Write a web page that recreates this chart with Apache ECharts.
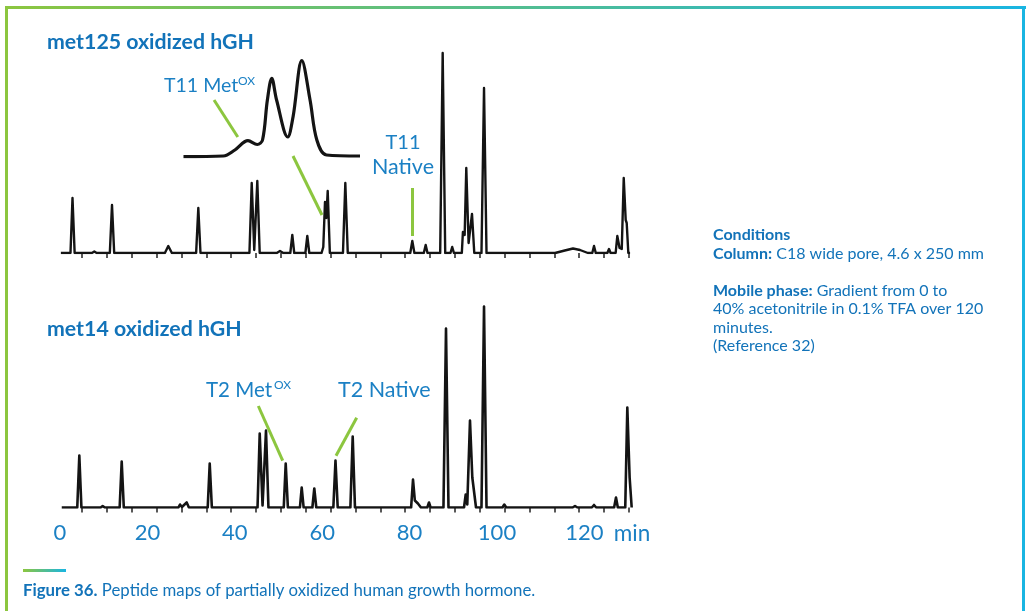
<!DOCTYPE html>
<html>
<head>
<meta charset="utf-8">
<title>Peptide maps of partially oxidized hGH</title>
<script src="https://cdn.jsdelivr.net/npm/echarts@6.0.0/dist/echarts.min.js"></script>
<style>
  html, body { margin: 0; padding: 0; background: #fff; }
  #main { width: 1031px; height: 611px; }
</style>
</head>
<body>
<div id="main"></div>
<script>
// retention time (min) / detector response
var traceMet125 = [
  [0.2, 0], [2.4, 0], [2.86, 55], [3.35, 0],
  [7.3, 0], [7.85, 1.5], [8.4, 0],
  [11.4, 0], [11.9, 48], [12.4, 0],
  [24.0, 0], [24.78, 7], [25.6, 0],
  [31.15, 0], [31.65, 45], [32.15, 0],
  [43.35, 0], [43.87, 70], [44.45, 3], [45.15, 72], [45.7, 0],
  [49.6, 0], [50.34, 2], [51.1, 0],
  [52.7, 0], [53.16, 18], [53.6, 0],
  [56.15, 0], [56.59, 17], [57.05, 0],
  [59.85, 0], [60.25, 6], [60.45, 4], [60.64, 51], [60.95, 35], [61.26, 62], [61.75, 0],
  [64.75, 0], [65.29, 70], [65.85, 0],
  [80.15, 0], [80.62, 12], [81.1, 0],
  [83.25, 0], [83.68, 8], [84.1, 0],
  [87.0, 0], [87.57, 200], [88.15, 0],
  [89.35, 0], [89.75, 6], [90.15, 0],
  [91.95, 0], [92.2, 21], [92.45, 23], [92.6, 18], [92.97, 85], [93.5, 10], [93.75, 9], [94.28, 39], [94.8, 0],
  [96.45, 0], [97.03, 165], [97.6, 0],
  [98.9, 0], [99.31, 2], [99.7, 0],
  [113.3, 0], [115.5, 2.5], [117.39, 4.5], [119.0, 3], [120.8, 0],
  [121.8, 0], [122.2, 7], [122.6, 0],
  [125.25, 0], [125.63, 4], [126.0, 0],
  [127.15, 0], [127.53, 17], [128.05, 5], [128.55, 4], [129.0, 75], [129.45, 33], [129.68, 30], [130.05, 0], [130.45, 0]
];

var traceMet14 = [
  [0.4, 0], [3.95, 0], [4.42, 52], [4.9, 0],
  [9.3, 0], [9.77, 1.5], [10.25, 0],
  [13.65, 0], [14.12, 46], [14.6, 0],
  [27.1, 0], [27.46, 3], [27.9, 0.5], [28.99, 5], [29.5, 0],
  [31.0, 0], [31.42, 1], [31.85, 0],
  [33.8, 0], [34.26, 44], [34.75, 0],
  [45.2, 0], [45.7, 74], [46.35, 2], [47.14, 77], [47.7, 0],
  [51.2, 0], [51.65, 44], [52.15, 0],
  [54.9, 0], [55.31, 20], [55.75, 0],
  [57.75, 0], [58.19, 19], [58.65, 0],
  [62.55, 0], [63.04, 47], [63.55, 0],
  [66.45, 0], [66.98, 71], [67.5, 0],
  [80.35, 0], [80.78, 28], [81.2, 7], [81.46, 7], [81.9, 4], [82.22, 5], [82.6, 0],
  [84.05, 0], [84.44, 5], [84.8, 0],
  [87.75, 0], [88.33, 179], [88.9, 0],
  [92.45, 0], [92.84, 13], [93.2, 3], [93.82, 87], [94.35, 30], [94.74, 32], [95.2, 0],
  [96.45, 0], [97.03, 201], [97.6, 0],
  [101.25, 0], [101.67, 3], [102.1, 0],
  [105.0, 0], [105.42, 1], [105.85, 0],
  [117.3, 0], [117.85, 1.5], [118.4, 0],
  [121.7, 0], [122.2, 2.5], [122.7, 0],
  [126.8, 0], [127.23, 10], [127.65, 0],
  [129.35, 0], [129.82, 100], [130.35, 30], [130.6, 30], [130.82, 0]
];

// magnified T11 cluster (inset)
var insetT11 = [
  [58.86, 0.3], [59.68, 1], [59.92, 7], [60.19, 16.3], [60.38, 12.5], [60.49, 17],
  [60.59, 57], [60.68, 78.7], [60.78, 57], [61.01, 20], [61.12, 40.3], [61.3, 96.3],
  [61.47, 57], [61.61, 17], [61.81, 2], [62.5, 1]
];

// small marks of the original recorder time scale
var recorderTicks = [5.03, 10.73, 16.41, 22.1, 27.78, 33.48, 39.18, 44.85, 50.55, 56.23, 61.93,
  67.62, 73.3, 78.99, 84.67, 90.37, 96.06, 101.74, 107.44, 113.11, 118.81, 124.51, 130.18];

var timeMin = 0;
var timeMax = 132;
var timeStep = 20;

var blue = '#1273b9';
var labelBlue = '#1b80c4';
var green = '#8cc63f';
var cyan = '#19b5e2';
var ink = '#141414';
var font = 'Lato';

var myChart = echarts.init(document.getElementById('main'));

function pointer(a, b) {
  return [{ coord: a }, { coord: b }];
}

var greenLine = {
  silent: true,
  symbol: 'none',
  animation: false,
  label: { show: false },
  lineStyle: { color: green, width: 3, type: 'solid' }
};

function timeAxis(gridIndex, withLabels) {
  return {
    gridIndex: gridIndex,
    type: 'value',
    min: timeMin,
    max: timeMax,
    interval: timeStep,
    axisLine: { show: false },
    splitLine: { show: false },
    axisTick: {
      show: true,
      customValues: recorderTicks,
      length: 5,
      lineStyle: { color: '#222', width: 1.5 }
    },
    axisLabel: {
      show: withLabels,
      showMaxLabel: false,
      margin: 14,
      color: labelBlue,
      fontSize: 22,
      fontFamily: font
    },
    name: withLabels ? 'min' : '',
    nameLocation: 'end',
    nameGap: -23,
    nameTextStyle: {
      color: labelBlue,
      fontSize: 22.5,
      fontFamily: font,
      verticalAlign: 'top',
      padding: [15, 0, 0, 0]
    }
  };
}

function label(text, x, y, size, align) {
  return {
    type: 'text',
    style: {
      text: text, x: x, y: y, fill: labelBlue, fontSize: size, fontFamily: font,
      align: align || 'left', verticalAlign: 'middle'
    }
  };
}

myChart.setOption({
  animation: false,
  backgroundColor: '#fff',
  grid: [
    { left: 60, top: 43, width: 576.84, height: 210, outerBoundsMode: 'none' },
    { left: 183, top: 57, width: 177, height: 100, outerBoundsMode: 'none' },
    { left: 60, top: 297.5, width: 576.84, height: 210, outerBoundsMode: 'none' }
  ],
  xAxis: [
    timeAxis(0, false),
    { gridIndex: 1, type: 'value', min: 58.85, max: 62.5, show: false },
    timeAxis(2, true)
  ],
  yAxis: [
    { gridIndex: 0, type: 'value', min: 0, max: 210, show: false },
    { gridIndex: 1, type: 'value', min: 0, max: 100, show: false },
    { gridIndex: 2, type: 'value', min: 0, max: 210, show: false }
  ],
  series: [
    {
      name: 'met125 oxidized hGH',
      type: 'line',
      xAxisIndex: 0,
      yAxisIndex: 0,
      data: traceMet125,
      showSymbol: false,
      lineStyle: { color: ink, width: 2.4, join: 'round' },
      markLine: Object.assign({}, greenLine, {
        data: [
          pointer([80.62, 65], [80.62, 17]),
          pointer([53.32, 97], [59.95, 38])
        ]
      })
    },
    {
      name: 'T11 inset',
      type: 'line',
      xAxisIndex: 1,
      yAxisIndex: 1,
      data: insetT11,
      smooth: 0.35,
      showSymbol: false,
      lineStyle: { color: ink, width: 3.2, join: 'round' },
      markLine: Object.assign({}, greenLine, {
        data: [pointer([59.49, 57], [59.98, 20])]
      })
    },
    {
      name: 'met14 oxidized hGH',
      type: 'line',
      xAxisIndex: 2,
      yAxisIndex: 2,
      data: traceMet14,
      showSymbol: false,
      lineStyle: { color: ink, width: 2.6, join: 'round' },
      markLine: Object.assign({}, greenLine, {
        data: [
          pointer([45.38, 101.5], [50.96, 46.8]),
          pointer([67.89, 89.8], [63.16, 51.8])
        ]
      })
    }
  ],
  graphic: [
    // frame
    {
      type: 'rect', shape: { x: 5, y: 6, width: 1021, height: 3 },
      style: { fill: new echarts.graphic.LinearGradient(0, 0, 1, 0, [
        { offset: 0, color: green }, { offset: 1, color: cyan }]) }
    },
    { type: 'rect', shape: { x: 5, y: 6, width: 3, height: 605 }, style: { fill: green } },
    { type: 'rect', shape: { x: 1022, y: 6, width: 3, height: 605 }, style: { fill: cyan } },
    // panel titles
    { type: 'text', style: { text: 'met125 oxidized hGH', x: 47, y: 42, fill: blue,
      fontSize: 21.3, fontWeight: 'bold', fontFamily: font, verticalAlign: 'middle' } },
    { type: 'text', style: { text: 'met14 oxidized hGH', x: 47, y: 329.5, fill: blue,
      fontSize: 21.3, fontWeight: 'bold', fontFamily: font, verticalAlign: 'middle' } },
    // peak labels
    label('T11 Met', 164, 86, 19.5),
    label('OX', 238, 81, 12),
    label('T11', 403, 143, 20, 'center'),
    label('Native', 403, 167, 21.5, 'center'),
    label('T2 Met', 206, 390.5, 20.5),
    label('OX', 274, 385, 12),
    label('T2 Native', 338, 390.5, 21.5),
    // conditions
    {
      type: 'text',
      style: {
        text: '{b|Conditions}\n{b|Column:} C18 wide pore, 4.6 x 250 mm',
        x: 713, y: 226, fill: blue, fontSize: 16, fontFamily: font,
        lineHeight: 18.5, verticalAlign: 'top',
        rich: { b: { fontWeight: 'bold', fontSize: 16, fontFamily: font, fill: blue, lineHeight: 18.5 } }
      }
    },
    {
      type: 'text',
      style: {
        text: '{b|Mobile phase:} Gradient from 0 to\n40% acetonitrile in 0.1% TFA over 120\nminutes.\n(Reference 32)',
        x: 713, y: 281.3, fill: blue, fontSize: 16, fontFamily: font,
        lineHeight: 18.5, verticalAlign: 'top',
        rich: { b: { fontWeight: 'bold', fontSize: 16, fontFamily: font, fill: blue, lineHeight: 18.5 } }
      }
    },
    // caption
    {
      type: 'rect', shape: { x: 23, y: 569, width: 43, height: 3 },
      style: { fill: new echarts.graphic.LinearGradient(0, 0, 1, 0, [
        { offset: 0, color: green }, { offset: 1, color: cyan }]) }
    },
    {
      type: 'text',
      style: {
        text: '{b|Figure 36.} Peptide maps of partially oxidized human growth hormone.',
        x: 23, y: 591, fill: blue, fontSize: 16.8, fontFamily: font, verticalAlign: 'middle',
        rich: { b: { fontWeight: 'bold', fontSize: 16.8, fontFamily: font, fill: blue } }
      }
    }
  ]
});
</script>
</body>
</html>
